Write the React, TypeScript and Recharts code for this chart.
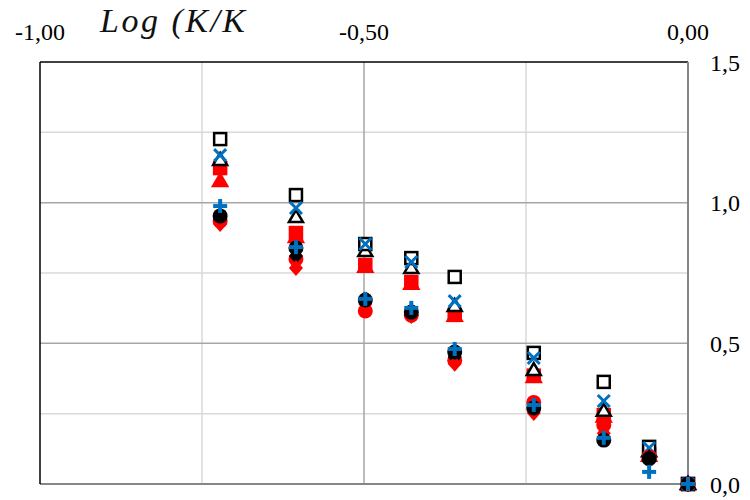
import React from "react";
import {
  ScatterChart,
  Scatter,
  XAxis,
  YAxis,
  ReferenceLine,
} from "recharts";

// log values on the x axis, shared by every series
const xValues = [-0.722, -0.605, -0.498, -0.427, -0.36, -0.238, -0.13, -0.06, 0];

const openSquare = [1.226, 1.027, 0.853, 0.803, 0.736, 0.466, 0.363, 0.132, 0];
const blueCross = [1.169, 0.981, 0.853, 0.789, 0.65, 0.448, 0.295, 0.128, 0];
const openTriangle = [1.152, 0.949, 0.828, 0.768, 0.633, 0.405, 0.26, 0.116, 0];
const redSquare = [1.123, 0.892, 0.778, 0.718, 0.601, 0.385, 0.245, 0.105, 0];
const redTriangle = [1.077, 0.878, 0.772, 0.712, 0.598, 0.38, 0.24, 0.1, 0];
const redCircle = [0.935, 0.8, 0.615, 0.6, 0.44, 0.29, 0.21, 0.096, 0];
const redDiamond = [0.924, 0.768, 0.64, 0.597, 0.427, 0.252, 0.18, 0.09, 0];
const blackDiamond = [0.942, 0.81, 0.65, 0.601, 0.451, 0.263, 0.16, 0.095, 0];
const blackCircle = [0.953, 0.839, 0.654, 0.611, 0.469, 0.27, 0.156, 0.09, 0];
const bluePlus = [0.988, 0.842, 0.658, 0.626, 0.48, 0.281, 0.164, 0.043, 0];

const xTicks = [-1, -0.75, -0.5, -0.25, 0];
const xLabelled = [-1, -0.5, 0];
const yTicks = [0, 0.5, 1, 1.5];
const majorX = [-0.5];
const minorX = [-0.75, -0.25];
const majorY = [0.5, 1];
const minorY = [0.25, 0.75, 1.25];

const BLUE = "#0070C0";
const RED = "#FF0000";

const toPoints = (ys: number[]) => ys.map((y, i) => ({ x: xValues[i], y }));

const square = (fill: string, stroke: string) => (p: any) => (
  <rect x={p.cx - 6} y={p.cy - 6} width={12} height={12} fill={fill} stroke={stroke} strokeWidth={2.5} />
);
const triangle = (fill: string, stroke: string) => (p: any) => (
  <polygon
    points={`${p.cx},${p.cy - 7} ${p.cx + 7},${p.cy + 5} ${p.cx - 7},${p.cy + 5}`}
    fill={fill}
    stroke={stroke}
    strokeWidth={2.5}
  />
);
const circle = (fill: string) => (p: any) => <circle cx={p.cx} cy={p.cy} r={7.5} fill={fill} />;
const diamond = (fill: string) => (p: any) => (
  <polygon
    points={`${p.cx},${p.cy - 8} ${p.cx + 7},${p.cy} ${p.cx},${p.cy + 8} ${p.cx - 7},${p.cy}`}
    fill={fill}
  />
);
const cross = (p: any) => (
  <g stroke={BLUE} strokeWidth={3}>
    <line x1={p.cx - 6} y1={p.cy - 6} x2={p.cx + 6} y2={p.cy + 6} />
    <line x1={p.cx - 6} y1={p.cy + 6} x2={p.cx + 6} y2={p.cy - 6} />
  </g>
);
const plus = (p: any) => (
  <g stroke={BLUE} strokeWidth={4}>
    <line x1={p.cx - 7} y1={p.cy} x2={p.cx + 7} y2={p.cy} />
    <line x1={p.cx} y1={p.cy - 7} x2={p.cx} y2={p.cy + 7} />
  </g>
);

const font = "'Liberation Serif', 'Times New Roman', serif";

export default function App() {
  return (
    <div style={{ position: "absolute", left: 0, top: 0, width: 750, height: 500 }}>
      <ScatterChart width={750} height={500} margin={{ top: 32, right: 22, left: 40, bottom: 16 }}>
        {minorY.map((v) => (
          <ReferenceLine key={"my" + v} y={v} stroke="#d9d9d9" strokeWidth={1.5} />
        ))}
        {minorX.map((v) => (
          <ReferenceLine key={"mx" + v} x={v} stroke="#d9d9d9" strokeWidth={1.5} />
        ))}
        {majorY.map((v) => (
          <ReferenceLine key={"My" + v} y={v} stroke="#a6a6a6" strokeWidth={1.5} />
        ))}
        {majorX.map((v) => (
          <ReferenceLine key={"Mx" + v} x={v} stroke="#a6a6a6" strokeWidth={1.5} />
        ))}
        <ReferenceLine y={0} stroke="#868686" strokeWidth={2} />
        <ReferenceLine x={-1} stroke="#000" strokeWidth={1.5} />
        <XAxis
          type="number"
          dataKey="x"
          orientation="top"
          domain={[-1, 0]}
          ticks={xTicks}
          height={30}
          tickSize={0}
          tickMargin={22}
          axisLine={{ stroke: "#000", strokeWidth: 1.5 }}
          tickLine={false}
          tick={{ fill: "#000", fontSize: 24, fontFamily: font }}
          tickFormatter={(v: number) => (xLabelled.includes(v) ? v.toFixed(2).replace(".", ",") : "")}
        />
        <YAxis
          type="number"
          dataKey="y"
          orientation="right"
          domain={[0, 1.5]}
          ticks={yTicks}
          width={40}
          tickSize={0}
          tickMargin={22}
          axisLine={{ stroke: "#868686", strokeWidth: 2 }}
          tickLine={false}
          tick={{ fill: "#000", fontSize: 24, fontFamily: font }}
          tickFormatter={(v: number) => v.toFixed(1).replace(".", ",")}
        />
        <Scatter data={toPoints(redTriangle)} shape={triangle(RED, RED)} isAnimationActive={false} />
        <Scatter data={toPoints(redSquare)} shape={square(RED, RED)} isAnimationActive={false} />
        <Scatter data={toPoints(openTriangle)} shape={triangle("#fff", "#000")} isAnimationActive={false} />
        <Scatter data={toPoints(openSquare)} shape={square("#fff", "#000")} isAnimationActive={false} />
        <Scatter data={toPoints(blueCross)} shape={cross} isAnimationActive={false} />
        <Scatter data={toPoints(redCircle)} shape={circle(RED)} isAnimationActive={false} />
        <Scatter data={toPoints(blackDiamond)} shape={diamond("#000")} isAnimationActive={false} />
        <Scatter data={toPoints(redDiamond)} shape={diamond(RED)} isAnimationActive={false} />
        <Scatter data={toPoints(blackCircle)} shape={circle("#000")} isAnimationActive={false} />
        <Scatter data={toPoints(bluePlus)} shape={plus} isAnimationActive={false} />
      </ScatterChart>
      <div
        style={{
          position: "absolute",
          left: 100,
          top: 2,
          fontFamily: font,
          fontStyle: "italic",
          fontSize: 34,
          letterSpacing: 2.5,
          color: "#111",
          whiteSpace: "nowrap",
        }}
      >
        Log (K/K
      </div>
    </div>
  );
}
